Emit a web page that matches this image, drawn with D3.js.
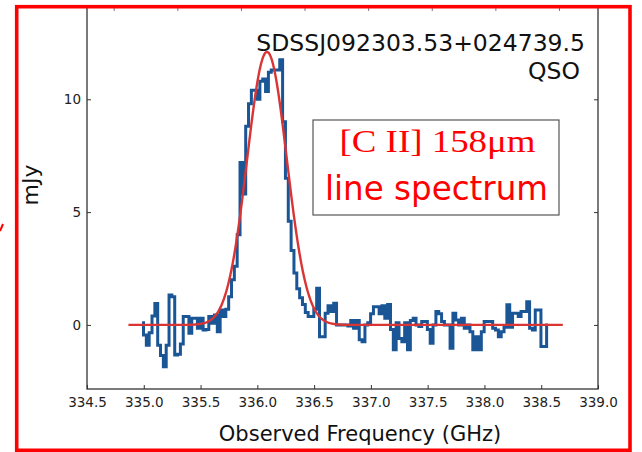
<!DOCTYPE html>
<html>
<head>
<meta charset="utf-8">
<script src="https://cdn.jsdelivr.net/npm/d3@7"></script>
<style>
  html, body { margin: 0; padding: 0; background: #fff; }
  svg { display: block; }
</style>
</head>
<body>
<svg id="chart" width="642" height="452"></svg>
<script>
// [C II] 158 micron spectrum of SDSSJ092303.53+024739.5 (flux density per channel, mJy)
const freqStart = 334.985;   // GHz, centre of first channel
const chanWidth = 0.025;     // GHz
const fluxDensity = [
  0.1, -0.45, -0.9, -0.35, 0.4, 0.95, -0.9, -1.35, -1.85, -0.9,
  1.33, 1.25, -1.33, -1.3, -0.85, 0.37, 0.37, -0.37, 0.3, 0.3,
  -0.15, 0.3, -0.22, -0.2, 0.37, 0.07, 0.44, -0.3, 0.66, 0.37,
  0.7, 1.25, 2.0, 2.6, 4.0, 7.2, 5.8, 8.8, 9.8, 10.4,
  10.4, 10.0, 10.8, 10.9, 10.35, 11.2, 11.3, 11.3, 11.3, 11.75,
  9.0, 6.5, 4.6, 3.3, 2.3, 1.6, 1.2, 0.9, 0.55, 0.37,
  0.37, 0.7, 1.63, -0.52, -0.52, 0.52, 0.85, 0.6, 0.96, 0.0,
  0.0, 0.0, 0.0, -0.05, 0.2, -0.15, 0.2, -0.66, -0.75, 0.0,
  0.1, 0.5, 0.8, 0.81, 0.5, 0.85, 0.3, 0.9, -0.2, -1.1,
  0.1, -0.6, -0.75, 0.1, -1.1, 0.2, 0.3, 0.0, -0.07, 0.15,
  0.15, -0.2, -0.81, 0.0, 0.59, 0.5, 0.15, 0.0, 0.0, -1.03,
  0.52, 0.22, 0.0, 0.3, -0.15, 0.0, -0.3, -1.1, -0.52, -1.1,
  -0.3, 0.15, 0.15, 0.15, -0.15, -0.22, -0.52, -0.3, -0.1, 0.89,
  -0.1, 0.52, 0.52, 0.37, 0.59, 0.59, 1.03, -0.15, -0.22, 0.66,
  0.66, -0.96, -0.96, 0.0
];

// Gaussian fit to the line
const fitAmplitude = 12.1;   // mJy
const fitCenter = 336.085;   // GHz
const fitSigma = 0.175;      // GHz
const fitRange = [334.865, 338.69];

// axes
const xTicks = [334.5, 335.0, 335.5, 336.0, 336.5, 337.0, 337.5, 338.0, 338.5, 339.0];
const yTicks = [0, 5, 10];
const xDomain = [334.5, 339.0];
const yDomain = [-2.84, 14.09];

// velocity ticks along the top edge (km/s, radio convention)
const velZeroFreq = 335.86;
const velTicks = [1000, 500, 0, -500, -1000, -1500, -2000, -2500];
const cLight = 299792.458;

const sourceName = "SDSSJ092303.53+024739.5";
const sourceType = "QSO";
const lineLabel = "[C II] 158\u03bcm";
const lineLabel2 = "line spectrum";

const svg = d3.select("#chart");
const plot = { left: 87, right: 598, top: 7, bottom: 389 };

const x = d3.scaleLinear().domain(xDomain).range([plot.left, plot.right]);
const y = d3.scaleLinear().domain(yDomain).range([plot.bottom, plot.top]);

const axisColor = "#333";
const tickFont = "DejaVu Sans, sans-serif";

// frame of the axes
svg.append("rect")
  .attr("x", plot.left).attr("y", plot.top)
  .attr("width", plot.right - plot.left).attr("height", plot.bottom - plot.top)
  .attr("fill", "none").attr("stroke", axisColor).attr("stroke-width", 1.3);

// bottom axis, ticks pointing inward
const xAxis = svg.append("g")
  .attr("transform", `translate(0,${plot.bottom})`)
  .call(d3.axisBottom(x).tickValues(xTicks).tickSizeInner(-4).tickSizeOuter(0).tickPadding(8)
        .tickFormat(d3.format(".1f")));
xAxis.select(".domain").remove();
xAxis.selectAll("line").attr("stroke", axisColor);
xAxis.selectAll("text").attr("font-family", tickFont).attr("font-size", 13.5).attr("fill", "#222");

// mirrored ticks on top edge (velocity)
const velToFreq = v => velZeroFreq * (1 - v / cLight);
svg.append("g").selectAll("line").data(velTicks).join("line")
  .attr("x1", d => x(velToFreq(d))).attr("x2", d => x(velToFreq(d)))
  .attr("y1", plot.top).attr("y2", plot.top + 4)
  .attr("stroke", "#777").attr("stroke-width", 1);

// left axis
const yAxis = svg.append("g")
  .attr("transform", `translate(${plot.left},0)`)
  .call(d3.axisLeft(y).tickValues(yTicks).tickSizeInner(-4).tickSizeOuter(0).tickPadding(6)
        .tickFormat(d3.format("d")));
yAxis.select(".domain").remove();
yAxis.selectAll("line").attr("stroke", axisColor);
yAxis.selectAll("text").attr("font-family", tickFont).attr("font-size", 13.5).attr("fill", "#222");

// right axis ticks
const yAxisR = svg.append("g")
  .attr("transform", `translate(${plot.right},0)`)
  .call(d3.axisRight(y).tickValues(yTicks).tickSizeInner(-4).tickSizeOuter(0).tickFormat(""));
yAxisR.select(".domain").remove();
yAxisR.selectAll("line").attr("stroke", axisColor);

// spectrum (steps centred on channels)
const spectrum = fluxDensity.map((v, i) => ({ f: freqStart + i * chanWidth, v }));
svg.append("path")
  .datum(spectrum)
  .attr("fill", "none")
  .attr("stroke", "#1a5596")
  .attr("stroke-width", 3)
  .attr("stroke-linejoin", "miter")
  .attr("d", d3.line().x(d => x(d.f)).y(d => y(d.v)).curve(d3.curveStep));

// Gaussian model
const fitFreqs = d3.range(fitRange[0], fitRange[1], 0.005).concat([fitRange[1]]);
const fitCurve = fitFreqs.map(f => ({
  f, v: fitAmplitude * Math.exp(-0.5 * Math.pow((f - fitCenter) / fitSigma, 2))
}));
svg.append("path")
  .datum(fitCurve)
  .attr("fill", "none")
  .attr("stroke", "#d93535")
  .attr("stroke-width", 2.4)
  .attr("d", d3.line().x(d => x(d.f)).y(d => y(d.v)));

// axis titles
svg.append("text")
  .attr("x", 360).attr("y", 441)
  .attr("text-anchor", "middle")
  .attr("font-family", tickFont).attr("font-size", 21).attr("fill", "#111")
  .text("Observed Frequency (GHz)");

svg.append("text")
  .attr("transform", "translate(38,185) rotate(-90)")
  .attr("text-anchor", "middle")
  .attr("font-family", tickFont).attr("font-size", 22).attr("fill", "#111")
  .text("mJy");

// source annotation
svg.append("text")
  .attr("x", 585).attr("y", 51)
  .attr("text-anchor", "end")
  .attr("font-family", tickFont).attr("font-size", 23.5).attr("fill", "#111")
  .text(sourceName);
svg.append("text")
  .attr("x", 580).attr("y", 78.5)
  .attr("text-anchor", "end")
  .attr("font-family", tickFont).attr("font-size", 23.5).attr("fill", "#111")
  .text(sourceType);

// line label box
svg.append("rect")
  .attr("x", 313).attr("y", 120).attr("width", 246).attr("height", 95)
  .attr("fill", "#fff").attr("stroke", "#555").attr("stroke-width", 1.2);
svg.append("text")
  .attr("x", 339.5).attr("y", 152)
  .attr("font-family", "Liberation Serif, Times New Roman, serif")
  .attr("font-size", 32).attr("fill", "#ff0000")
  .attr("textLength", 196).attr("lengthAdjust", "spacingAndGlyphs")
  .text(lineLabel);
svg.append("text")
  .attr("x", 325).attr("y", 200)
  .attr("font-family", tickFont)
  .attr("font-size", 33).attr("fill", "#ff0000")
  .attr("textLength", 223).attr("lengthAdjust", "spacingAndGlyphs")
  .text(lineLabel2);

// red outline around the panel
svg.append("rect")
  .attr("x", 16.7).attr("y", 6.7).attr("width", 613.3).attr("height", 443.6)
  .attr("fill", "none").attr("stroke", "#ff0000").attr("stroke-width", 3.6);
svg.append("path")
  .attr("d", "M0,231 L3,224")
  .attr("stroke", "#ff0000").attr("stroke-width", 2).attr("fill", "none");
</script>
</body>
</html>
